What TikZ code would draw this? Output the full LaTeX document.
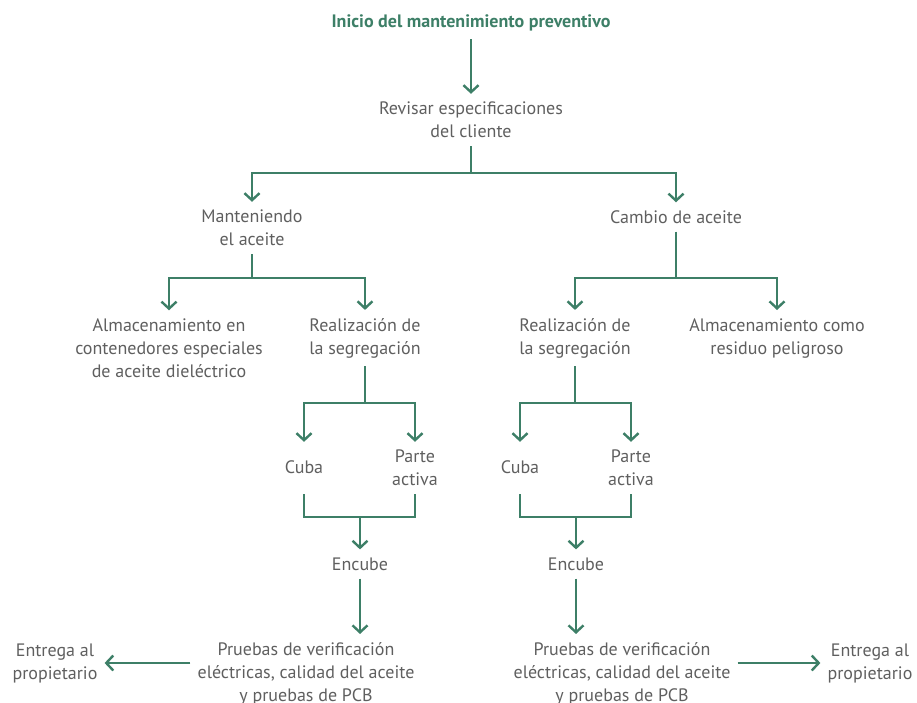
\documentclass[tikz,border=0pt]{standalone}
\usepackage{fontspec}
\setmainfont{PT Sans}
\usetikzlibrary{arrows.meta}
\definecolor{myGreen}{RGB}{61,127,103}
\definecolor{myGray}{RGB}{95,95,95}

\begin{document}
\begin{tikzpicture}[x=1pt,y=-1pt,->,>={Straight Barb[length=7pt,width=15pt]},
  line width=2.4pt,color=myGreen,
  title node/.style={font=\fontsize{18}{23}\selectfont\bfseries,text=myGreen,
  inner xsep=6pt,inner ysep=7pt},text node/.style={align=center,
  font=\fontsize{18}{23}\selectfont,text=myGray,inner xsep=6pt,inner ysep=7pt}]

\useasboundingbox (0,0) rectangle (917,702);

% The steps
  \node[title node] (start) at (471,23) {Inicio del mantenimiento preventivo};
  \node[text node] (revisar) at (471,120) {Revisar especificaciones\\del cliente};
  \node[text node] (mant) at (252,228) {Manteniendo\\el aceite};
  \node[text node] (cambio) at (676,217) {Cambio de aceite};
  \node[text node] (almL) at (169,348) {Almacenamiento en\\contenedores especiales\\de aceite dieléctrico};
  \node[text node] (realL) at (365,338) {Realización de\\la segregación};
  \node[text node] (realR) at (575,338) {Realización de\\la segregación};
  \node[text node] (almR) at (777,338) {Almacenamiento como\\residuo peligroso};
  \node[text node] (cubaL) at (304,467) {Cuba};
  \node[text node] (parteL) at (415,468) {Parte\\activa};
  \node[text node] (cubaR) at (520,467) {Cuba};
  \node[text node] (parteR) at (631,468) {Parte\\activa};
  \node[text node] (encL) at (360,564) {Encube};
  \node[text node] (encR) at (576,564) {Encube};
  \node[text node] (pruebL) at (306,673.5) {Pruebas de verificación\\eléctricas, calidad del aceite\\y pruebas de PCB};
  \node[text node] (pruebR) at (622,673.5) {Pruebas de verificación\\eléctricas, calidad del aceite\\y pruebas de PCB};
  \node[text node] (entL) at (55,663) {Entrega al\\propietario};
  \node[text node] (entR) at (870,663) {Entrega al\\propietario};

% Branch points
  \coordinate (s1) at (471,173);
  \coordinate (s2) at (252,278);
  \coordinate (s3) at (676,278);
  \coordinate (s4) at (365,403);
  \coordinate (s5) at (575,403);
  \coordinate (j1) at (360,517);
  \coordinate (j2) at (576,517);

% The arrows between the steps
  \draw (start) -- (revisar);
  \draw[-] (revisar) -- (s1);
  \draw (s1) -| (mant);
  \draw (s1) -| (cambio);
  \draw[-] (mant) -- (s2);
  \draw (s2) -| (almL);
  \draw (s2) -| (realL);
  \draw[-] (cambio) -- (s3);
  \draw (s3) -| (realR);
  \draw (s3) -| (almR);
  \draw[-] (realL) -- (s4);
  \draw (s4) -| (cubaL |- parteL.north);
  \draw (s4) -| (parteL);
  \draw[-] (realR) -- (s5);
  \draw (s5) -| (cubaR |- parteR.north);
  \draw (s5) -| (parteR);
  \draw[-] (cubaL |- parteL.south) |- (j1) -| (parteL);
  \draw[-] (cubaR |- parteR.south) |- (j2) -| (parteR);
  \draw (j1) -- (encL);
  \draw (j2) -- (encR);
  \draw (encL) -- (encL |- pruebL.north);
  \draw (encR) -- (encR |- pruebR.north);
  \draw (pruebL.west |- entL) -- (entL.east);
  \draw (pruebR.east |- entR) -- (entR.west);

\end{tikzpicture}
\end{document}
